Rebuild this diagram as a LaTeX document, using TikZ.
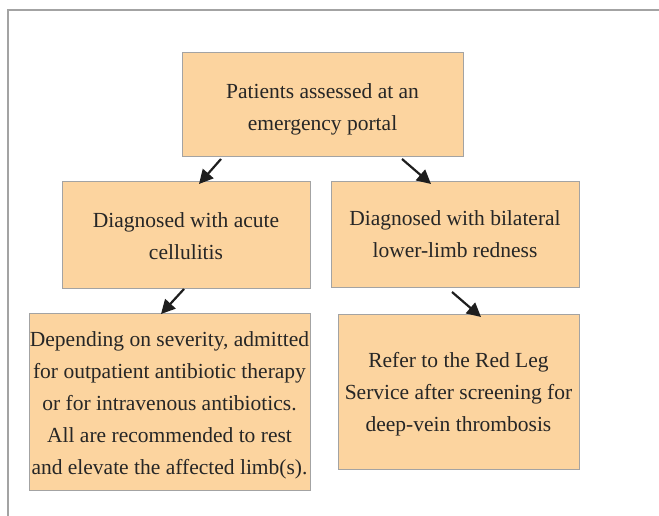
\documentclass[tikz,border=0pt]{standalone}
\usepackage{fontspec}
\setmainfont{Liberation Serif}
\usepackage{tikz}
\usetikzlibrary{positioning, arrows.meta}
\definecolor{boxfill}{HTML}{FCD49F}
\definecolor{boxline}{HTML}{A3A3A3}
\definecolor{arrowcol}{HTML}{1E1E1E}

\begin{document}
\begin{tikzpicture}[x=1pt, y=-1pt,
  every node/.style={font=\fontsize{21.5}{32}\selectfont, text=black!85},
  stepbox/.style={draw=boxline, fill=boxfill, line width=1pt, inner sep=0pt},
  steptext/.style={align=center, inner sep=0pt},
  flow/.style={-{Triangle[length=14pt, width=14pt]}, line width=2.2pt, draw=arrowcol}]
\useasboundingbox (0,0) rectangle (659,516);
% Frame
\draw[boxline, line width=1.2pt] (8,516) -- (8,10) -- (659,10);

% Define the boxes
\node[stepbox, minimum width=281pt, minimum height=104pt] (patients) at (322.5,105) {};
\node[stepbox, minimum width=248pt, minimum height=106pt] (cellulitis) at (186,235) {};
\node[stepbox, minimum width=248pt, minimum height=105pt] (redness) at (455,234.5) {};
\node[stepbox, minimum width=281pt, minimum height=177pt] (therapy) at (169.5,401.5) {};
\node[stepbox, minimum width=241pt, minimum height=155pt] (redleg) at (458.5,391.5) {};

% Texts in the boxes
\node[steptext] (patientstext) at ([yshift=-4pt]patients.center) {Patients assessed at an\\emergency portal};
\node[steptext] (cellulitistext) at ([yshift=-1pt]cellulitis.center) {Diagnosed with acute\\cellulitis};
\node[steptext] (rednesstext) at (redness.center) {Diagnosed with bilateral\\lower-limb redness};
\node[steptext] (therapytext) at ([yshift=-4pt]therapy.center) {Depending on severity, admitted\\for outpatient antibiotic therapy\\or for intravenous antibiotics.\\All are recommended to rest\\and elevate the affected limb(s).};
\node[steptext] (redlegtext) at ([yshift=-3pt]redleg.center) {Refer to the Red Leg\\Service after screening for\\deep-vein thrombosis};

% Arrow ends
\coordinate (fromleft) at (221,159);
\coordinate (toleft) at (199,184);
\coordinate (fromright) at (402,159);
\coordinate (toright) at (431,184);
\coordinate (fromcell) at (184,289);
\coordinate (totherapy) at (161,314);
\coordinate (fromred) at (452,292);
\coordinate (toredleg) at (481,317);

% Draw the maps
\draw[flow] (fromleft) -- (toleft);
\draw[flow] (fromright) -- (toright);
\draw[flow] (fromcell) -- (totherapy);
\draw[flow] (fromred) -- (toredleg);
\end{tikzpicture}
\end{document}
